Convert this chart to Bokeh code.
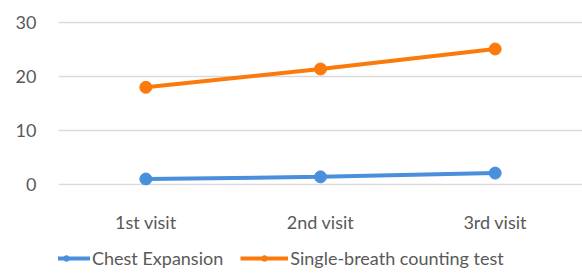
from bokeh.plotting import figure
from bokeh.models import Range1d, Legend, LegendItem, FactorRange
from bokeh.layouts import column
from bokeh.embed import file_html
from bokeh.resources import INLINE

visits = ["1st visit", "2nd visit", "3rd visit"]
chest_expansion = [1.0, 1.4, 2.1]
single_breath = [18.0, 21.4, 25.1]
y_ticks = [0, 10, 20, 30]

BLUE = "#4A8FDB"
ORANGE = "#FB7A0C"
TEXT = "#595959"
FONT = "Lato"
FS = "18px"

p = figure(width=582, height=240, x_range=FactorRange(*visits), y_range=Range1d(-0.2, 30.2),
           output_backend="svg", toolbar_location=None,
           min_border_left=58, min_border_right=0, min_border_top=21, min_border_bottom=55)
p.outline_line_color = None

p.line(visits, chest_expansion, line_color=BLUE, line_width=4)
p.scatter(visits, chest_expansion, size=12, fill_color=BLUE, line_color=BLUE)
p.line(visits, single_breath, line_color=ORANGE, line_width=4)
p.scatter(visits, single_breath, size=12, fill_color=ORANGE, line_color=ORANGE)

p.yaxis.ticker = y_ticks
p.yaxis.axis_line_color = None
p.yaxis.major_tick_line_color = None
p.yaxis.minor_tick_line_color = None
p.yaxis.major_tick_out = 0
p.yaxis.major_label_standoff = 22
p.yaxis.major_label_text_font = FONT
p.yaxis.major_label_text_font_size = FS
p.yaxis.major_label_text_color = TEXT

p.xaxis.axis_line_color = None
p.xaxis.major_tick_line_color = None
p.xaxis.major_tick_out = 0
p.xaxis.major_label_standoff = 25
p.xaxis.major_label_text_font = FONT
p.xaxis.major_label_text_font_size = FS
p.xaxis.major_label_text_color = TEXT

p.xgrid.grid_line_color = None
p.ygrid.grid_line_color = "#D9D9D9"
p.ygrid.grid_line_width = 1.5

# legend strip below the chart (series drawn off-range so only the legend shows)
q = figure(width=582, height=33, x_range=FactorRange(*visits), y_range=Range1d(100, 101),
           output_backend="svg", toolbar_location=None,
           min_border_left=0, min_border_right=0, min_border_top=0, min_border_bottom=0)
q.axis.visible = False
q.grid.grid_line_color = None
q.outline_line_color = None
l1 = q.line(visits, chest_expansion, line_color=BLUE, line_width=4)
m1 = q.scatter(visits, chest_expansion, size=12, fill_color=BLUE, line_color=BLUE)
l2 = q.line(visits, single_breath, line_color=ORANGE, line_width=4)
m2 = q.scatter(visits, single_breath, size=12, fill_color=ORANGE, line_color=ORANGE)

legend = Legend(items=[LegendItem(label="Chest Expansion", renderers=[l1, m1]),
                       LegendItem(label="Single-breath counting test", renderers=[l2, m2])],
                orientation="horizontal", location=(-16, 4),
                label_text_font=FONT, label_text_font_size=FS, label_text_color=TEXT,
                glyph_width=48, glyph_height=14, label_standoff=2, spacing=17,
                padding=0, margin=0, border_line_color=None, background_fill_alpha=0)
q.add_layout(legend, "center")

open("out.html", "w").write(file_html(column(p, q, spacing=0), INLINE))
